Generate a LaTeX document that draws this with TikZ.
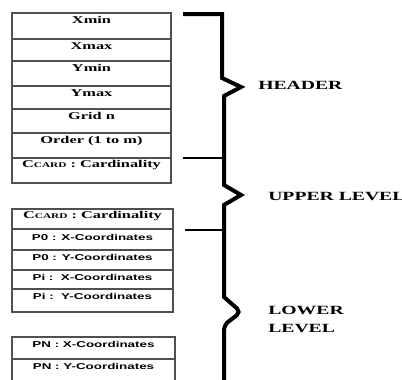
\documentclass[tikz,border=0pt]{standalone}
\usepackage{fontspec}
\newfontfamily\cellserif{Liberation Serif Bold}[FakeStretch=1.57]
\newfontfamily\cellsans{Liberation Sans Bold}[FakeStretch=1.57]
\definecolor{cellgray}{HTML}{505050}
\newcommand\ccardtxt{C{\fontsize{5.4}{6}\selectfont CARD}}
\tikzset{
  rowtext/.style={anchor=base, inner sep=0pt, font=\cellserif\fontsize{7.8}{9}\selectfont},
  coordtext/.style={anchor=base, inner sep=0pt, font=\cellsans\fontsize{6.4}{8}\selectfont},
  leveltext/.style={anchor=west, inner sep=0pt, align=left, font=\cellserif\fontsize{9.4}{13.5}\selectfont},
  cellline/.style={cellgray, line width=0.8pt},
  brace/.style={black, line width=3pt, line join=miter},
  tick/.style={black, line width=2.2pt}
}
\begin{document}
\begin{tikzpicture}[x=0.75pt,y=-0.75pt]
\useasboundingbox (0,0) rectangle (402,379);
\clip (0,0) rectangle (402,379);
%header table
\draw[cellline] (12,13) rectangle (171,183);
\draw[cellline] (12,39) -- (171,39);
\draw[cellline] (12,61) -- (171,61);
\draw[cellline] (12,86) -- (171,86);
\draw[cellline] (12,109) -- (171,109);
\draw[cellline] (12,133) -- (171,133);
\draw[cellline] (12,158) -- (171,158);
\node[rowtext] (xmin) at (91.5,23) {Xmin};
\node[rowtext] (xmax) at (91.5,49) {Xmax};
\node[rowtext] (ymin) at (91.5,71) {Ymin};
\node[rowtext] (ymax) at (91.5,96) {Ymax};
\node[rowtext] (grid) at (91.5,119) {Grid n};
\node[rowtext] (order) at (91.5,143) {Order (1 to m)};
\node[rowtext] (card1) at (91.5,167) {\ccardtxt\ : Cardinality};
%upper level table
\draw[cellline] (12,209) rectangle (173,312);
\draw[cellline] (12,229) -- (173,229);
\draw[cellline] (12,250) -- (173,250);
\draw[cellline] (12,270) -- (173,270);
\draw[cellline] (12,289) -- (173,289);
\node[rowtext] (card2) at (92.5,218) {\ccardtxt\ : Cardinality};
\node[coordtext] (p0x) at (92.5,240) {P0 : X-Coordinates};
\node[coordtext] (p0y) at (92.5,260) {P0 : Y-Coordinates};
\node[coordtext] (pix) at (92.5,280) {Pi :\ \ X-Coordinates};
\node[coordtext] (piy) at (92.5,299) {Pi :\ \ Y-Coordinates};
%lower level table
\draw[cellline] (12,385) -- (12,337) -- (175,337) -- (175,385);
\draw[cellline] (12,359) -- (175,359);
\node[coordtext] (pnx) at (93.5,347) {PN : X-Coordinates};
\node[coordtext] (pny) at (93.5,369) {PN : Y-Coordinates};
%brace
\draw[brace] (183,14) -- (222,14) -- (222,78) -- (241,87) -- (224,96)
  -- (224,185) -- (241,195) -- (224,205) -- (224,297)
  [rounded corners=4pt] -- (241,312) -- (224,325) [sharp corners] -- (224,385);
\draw[tick] (183,158) -- (222,158);
\draw[tick] (185,230) -- (224,230);
%labels
\node[leveltext] (header) at (258,85) {HEADER};
\node[leveltext] (upper) at (268,196) {UPPER LEVEL};
\node[leveltext] (lower) at (268,319) {LOWER\\LEVEL};
\end{tikzpicture}
\end{document}
